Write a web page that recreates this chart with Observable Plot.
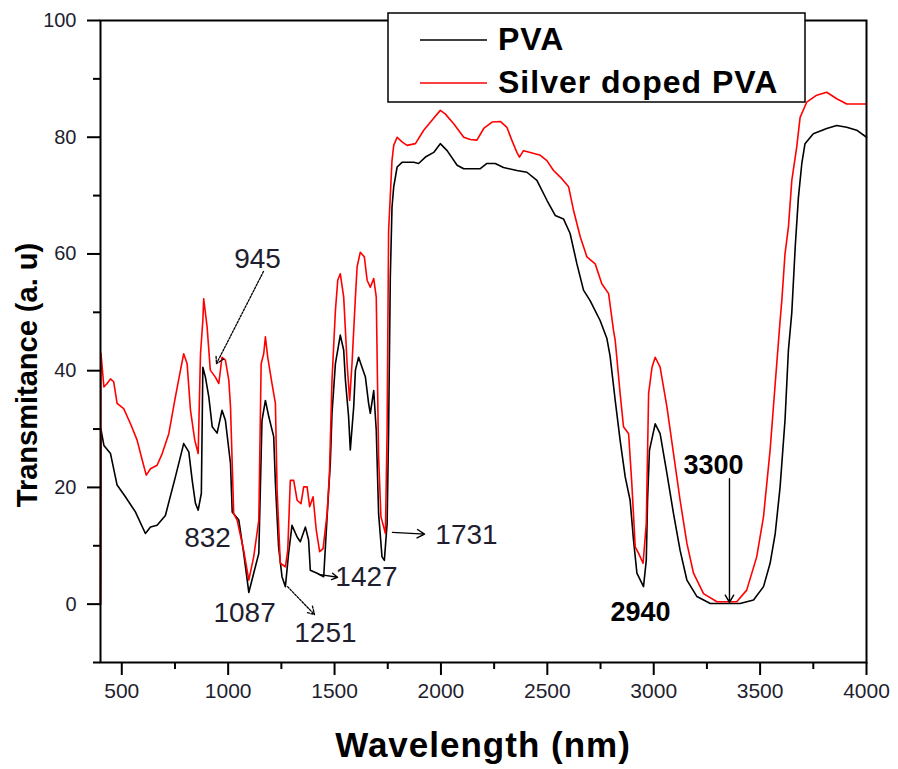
<!DOCTYPE html>
<html>
<head>
<meta charset="utf-8">
<script src="https://cdn.jsdelivr.net/npm/d3@7"></script>
<script src="https://cdn.jsdelivr.net/npm/@observablehq/plot@0.6"></script>
<style>
  html, body { margin: 0; padding: 0; background: #fff; }
  #chart { width: 898px; height: 769px; }
  svg { font-family: Arial, "Liberation Sans", sans-serif; }
</style>
</head>
<body>
<div id="chart"></div>
<script>
// ---- Data ----
const pvaWavelength = [400, 402, 416, 447, 478, 517, 564, 611, 635, 666, 705, 752, 791, 815, 831, 846, 859, 874, 881, 893, 909, 925, 948, 971, 987, 1011, 1019, 1050, 1073, 1097, 1120, 1144, 1159, 1175, 1191, 1214, 1222, 1237, 1253, 1269, 1284, 1300, 1324, 1339, 1363, 1378, 1386, 1418, 1449, 1465, 1480, 1488, 1504, 1527, 1543, 1551, 1566, 1574, 1590, 1598, 1613, 1629, 1645, 1660, 1668, 1684, 1696, 1707, 1723, 1734, 1747, 1754, 1762, 1770, 1778, 1794, 1817, 1872, 1895, 1927, 1966, 1997, 2029, 2076, 2107, 2185, 2216, 2255, 2294, 2357, 2404, 2451, 2498, 2537, 2576, 2607, 2639, 2670, 2701, 2748, 2780, 2795, 2819, 2842, 2866, 2889, 2905, 2921, 2952, 2965, 2971, 2980, 3007, 3030, 3062, 3093, 3124, 3156, 3203, 3266, 3406, 3469, 3516, 3547, 3571, 3594, 3617, 3633, 3649, 3665, 3680, 3696, 3711, 3750, 3813, 3860, 3907, 3954, 4000];
const pvaValues = [0, 30, 27.2, 25.8, 20.4, 18.4, 15.8, 12.1, 13.2, 13.5, 15.2, 21.8, 27.5, 26.1, 21.2, 17.3, 16.1, 19, 40.6, 38.9, 35.5, 30.4, 29.3, 33.2, 31.5, 24.1, 15.8, 14.4, 8.7, 2.0, 5.3, 8.7, 31.5, 34.9, 32.1, 28.7, 20.7, 9.8, 4.7, 3.0, 8.7, 13.5, 11.5, 10.7, 13.2, 11, 5.8, 5.3, 4.7, 15, 24.1, 32.7, 41.2, 46.1, 43.5, 38.4, 32.1, 26.4, 33.8, 40.1, 42.3, 40.6, 38.9, 34.4, 32.7, 36.6, 29.8, 15.5, 8.1, 7.5, 13.8, 29.8, 56, 68, 71.5, 74.9, 75.7, 75.7, 75.5, 76.6, 77.4, 78.9, 77.7, 75.2, 74.6, 74.6, 75.5, 75.5, 74.8, 74.3, 74, 72.6, 69.2, 66.6, 66, 63.5, 58.3, 53.8, 52, 48.6, 45.5, 42.5, 34.9, 28.1, 21.8, 17.8, 11, 5.3, 3.0, 7.5, 17.8, 26.4, 30.9, 29.2, 22.4, 15.5, 9.2, 4.1, 1.3, 0.1, 0.1, 0.7, 3, 7, 12.1, 20.1, 31.5, 43.5, 50, 61.2, 69.7, 75.5, 78.9, 80.6, 81.5, 82, 81.7, 81.2, 80];

const agWavelength = [400, 402, 416, 431, 447, 462, 478, 509, 541, 572, 596, 615, 635, 666, 690, 721, 752, 776, 791, 807, 823, 843, 859, 870, 881, 885, 901, 916, 940, 956, 971, 987, 1003, 1011, 1026, 1042, 1073, 1097, 1120, 1144, 1155, 1167, 1175, 1186, 1206, 1222, 1230, 1245, 1269, 1280, 1292, 1308, 1324, 1342, 1355, 1371, 1383, 1399, 1414, 1430, 1446, 1465, 1476, 1488, 1504, 1515, 1527, 1543, 1559, 1571, 1582, 1598, 1606, 1621, 1640, 1653, 1668, 1684, 1696, 1707, 1718, 1739, 1747, 1754, 1762, 1770, 1778, 1794, 1817, 1841, 1880, 1919, 1958, 1997, 2020, 2060, 2107, 2138, 2169, 2201, 2240, 2279, 2310, 2333, 2357, 2369, 2388, 2420, 2467, 2498, 2529, 2568, 2600, 2623, 2655, 2686, 2725, 2756, 2788, 2811, 2819, 2842, 2858, 2882, 2897, 2913, 2929, 2950, 2965, 2976, 2992, 3007, 3030, 3062, 3093, 3124, 3156, 3187, 3234, 3297, 3390, 3437, 3484, 3516, 3547, 3571, 3594, 3602, 3617, 3633, 3649, 3672, 3688, 3719, 3766, 3813, 3860, 3907, 4000];
const agValues = [0, 43, 37.2, 37.8, 38.6, 38.1, 34.4, 33.5, 30.9, 28.1, 24.7, 22.1, 23.2, 23.8, 25.8, 29.2, 35.5, 40.1, 42.9, 41.2, 33.2, 28.1, 25.8, 42.9, 48.6, 52.3, 47.5, 40.1, 38.9, 37.8, 42.3, 41.8, 38.4, 33.8, 15.5, 14.4, 9.2, 4.1, 8.1, 14.4, 41.2, 42.9, 45.8, 42.3, 37.8, 34.4, 19.5, 7, 6.4, 9.2, 21.2, 21.2, 17.8, 17.2, 20.1, 20.1, 16.7, 18.4, 12.7, 9, 9.5, 15.5, 22.4, 38.4, 50.3, 55.5, 56.6, 52.6, 41.2, 34.9, 41.2, 52.6, 57.8, 60.3, 59.5, 55.5, 54.3, 55.8, 52.6, 25.2, 15, 12.1, 29.8, 64, 70, 76, 78.6, 80, 79.2, 78.6, 78.9, 81.2, 82.9, 84.6, 84, 82.3, 80, 79.6, 79.5, 81.5, 82.6, 82.7, 81.7, 79.5, 77.4, 76.6, 77.7, 77.4, 76.9, 76, 74.3, 72.9, 71.5, 67.5, 62.9, 59.5, 58.3, 54.9, 53.2, 46.9, 45.2, 36.1, 30.4, 29.2, 20.7, 9.8, 8.7, 7, 13.8, 36.1, 40.6, 42.3, 40.6, 33.8, 25.8, 17.8, 10.4, 5.3, 1.8, 0.4, 0.4, 2.4, 8.1, 15, 26.4, 37.8, 48.6, 52, 60, 64.6, 72.6, 78.3, 83.4, 86, 87.2, 87.7, 86.6, 85.7, 85.7];

const seriesNames = ["PVA", "Silver doped PVA"];
const seriesColors = ["#000000", "#ff0000"];

const xMajorTicks = [500, 1000, 1500, 2000, 2500, 3000, 3500, 4000];
const xMinorTicks = [750, 1250, 1750, 2250, 2750, 3250, 3750];
const yMajorTicks = [0, 20, 40, 60, 80, 100];
const yMinorTicks = [-10, 10, 30, 50, 70, 90];

// peak annotations: label, text anchor (data units), bold
const peakLabels = ["945", "832", "1087", "1251", "1427", "1731", "2940", "3300"];
const peakLabelX = [1138, 903, 1077, 1457, 1650, 2120, 2938, 3281];
const peakLabelY = [59.2, 11.4, -1.6, -4.9, 4.6, 11.8, -1.4, 23.8];
const peakLabelBold = [false, false, false, false, false, false, true, true];

// arrows (data units)
const arrowX1 = [1166, 1279, 1425, 1772, 3356];
const arrowY1 = [57.0, 3.0, 5.1, 12.3, 21.5];
const arrowX2 = [945, 1406, 1514, 1923, 3356];
const arrowY2 = [41.2, -1.8, 4.6, 12.0, 0.3];
const arrowDash = ["2,2", "2,1.5", null, null, null];

// ---- build tables ----
const pva = pvaWavelength.map((w, i) => ({wl: w, t: pvaValues[i], s: seriesNames[0]}));
const ag = agWavelength.map((w, i) => ({wl: w, t: agValues[i], s: seriesNames[1]}));
const labels = peakLabels.map((l, i) => ({label: l, x: peakLabelX[i], y: peakLabelY[i], bold: peakLabelBold[i]}));
const arrows = arrowX1.map((x, i) => ({x1: x, y1: arrowY1[i], x2: arrowX2[i], y2: arrowY2[i], dash: arrowDash[i]}));

const textColor = "#1e1e2e";

const plot = Plot.plot({
  width: 898,
  height: 769,
  marginLeft: 100,
  marginRight: 32,
  marginTop: 20,
  marginBottom: 107,
  style: {fontFamily: "Arial, 'Liberation Sans', sans-serif", background: "#fff", overflow: "visible"},
  x: {domain: [400, 4000]},
  y: {domain: [-10, 100]},
  marks: [
    Plot.axisX({ticks: xMinorTicks, tickSize: 7, tickFormat: null, text: null, strokeWidth: 2, label: null}),
    Plot.axisX({ticks: xMajorTicks, tickSize: 13, tickPadding: 8, tickFormat: d => String(d), fontSize: 21, strokeWidth: 2, fill: textColor, label: null}),
    Plot.axisY({ticks: yMinorTicks, tickSize: 7, text: null, strokeWidth: 2, label: null}),
    Plot.axisY({ticks: yMajorTicks, tickSize: 13, tickPadding: 11, tickFormat: d => String(d), fontSize: 20, strokeWidth: 2, fill: textColor, label: null}),
    Plot.line(pva, {x: "wl", y: "t", stroke: seriesColors[0], strokeWidth: 1.6}),
    Plot.line(ag, {x: "wl", y: "t", stroke: seriesColors[1], strokeWidth: 1.6}),
    Plot.arrow(arrows.filter(d => d.dash), {x1: "x1", y1: "y1", x2: "x2", y2: "y2", stroke: "#000", strokeWidth: 1.3, headLength: 10, strokeDasharray: "2,1.5"}),
    Plot.arrow(arrows.filter(d => !d.dash), {x1: "x1", y1: "y1", x2: "x2", y2: "y2", stroke: "#000", strokeWidth: 1.4, headLength: 9}),
    Plot.text(labels.filter(d => !d.bold), {x: "x", y: "y", text: "label", fontSize: 28, fill: textColor}),
    Plot.text(labels.filter(d => d.bold), {x: "x", y: "y", text: "label", fontSize: 27, fontWeight: "bold", fill: "#000"}),
    Plot.frame({stroke: "#000", strokeWidth: 2})
  ]
});

const svg = d3.select(plot);

// axis titles
svg.append("text")
  .attr("x", 483).attr("y", 757)
  .attr("text-anchor", "middle")
  .attr("font-size", 35).attr("font-weight", "bold")
  .attr("letter-spacing", 1)
  .attr("fill", "#000")
  .text("Wavelength (nm)");

svg.append("text")
  .attr("transform", "translate(37,375) rotate(-90)")
  .attr("text-anchor", "middle")
  .attr("font-size", 29).attr("font-weight", "bold")
  .attr("fill", "#000")
  .text("Transmitance (a. u)");

// legend box
const lg = svg.append("g");
lg.append("rect").attr("x", 388).attr("y", 13).attr("width", 417).attr("height", 89)
  .attr("fill", "#fff").attr("stroke", "#000").attr("stroke-width", 1.5);
seriesNames.forEach((name, i) => {
  const yy = i === 0 ? 40 : 83;
  lg.append("line").attr("x1", 420).attr("x2", 487).attr("y1", yy).attr("y2", yy)
    .attr("stroke", seriesColors[i]).attr("stroke-width", 1.6);
  lg.append("text").attr("x", 498).attr("y", yy + 10)
    .attr("text-anchor", "start")
    .attr("font-size", 32).attr("font-weight", "bold").attr("letter-spacing", 1)
    .attr("fill", "#000").text(name);
});

document.getElementById("chart").appendChild(plot);
</script>
</body>
</html>
